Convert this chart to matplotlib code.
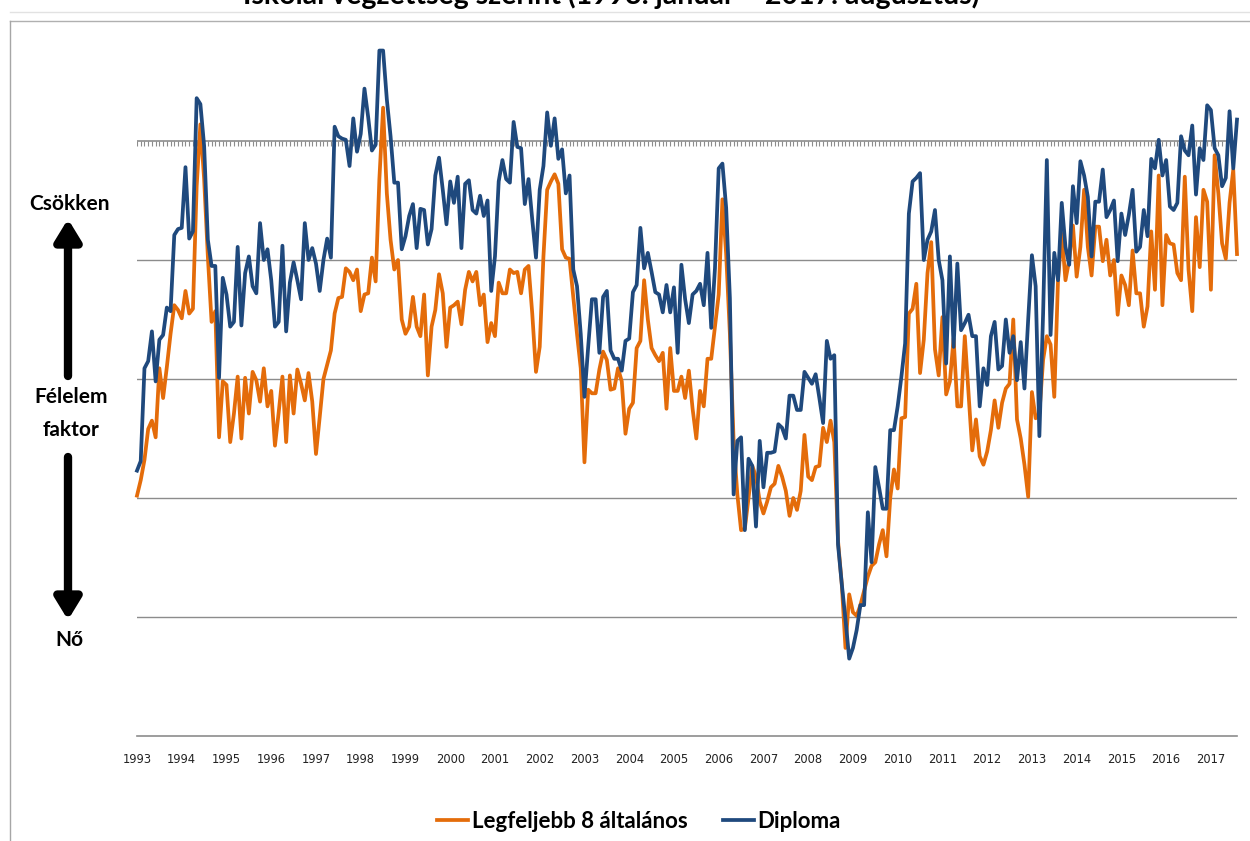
import matplotlib
matplotlib.use("Agg")
import matplotlib.pyplot as plt
from matplotlib.lines import Line2D

TITLE = "Iskolai végzettség szerint (1993. január – 2017. augusztus)"
YEARS = [str(y) for y in range(1993, 2018)]
SERIES_NAMES = ["Legfeljebb 8 általános", "Diploma"]

# monthly values, Jan 1993 - Aug 2017 (arbitrary index units)
low_edu = [
    -29.8, -28.5, -26.8, -24.2, -23.5, -24.9, -19.1, -21.6, -19.0, -16.2,
    -13.8, -14.2, -14.9, -12.6, -14.5, -14.1, -3.8, 1.4, -3.2, -9.7,
    -15.2, -14.3, -24.9, -20.2, -20.5, -25.3, -22.9, -19.8, -25.0, -19.9,
    -22.9, -19.4, -20.1, -21.9, -19.1, -22.3, -21.0, -25.6, -22.8, -19.8,
    -25.3, -19.7, -22.9, -19.2, -20.4, -21.8, -19.5, -21.9, -26.3, -23.2,
    -20.0, -18.8, -17.6, -14.5, -13.2, -13.1, -10.7, -11.0, -11.7, -10.8,
    -14.3, -12.9, -12.8, -9.8, -11.8, -3.2, 2.8, -4.4, -8.3, -10.8,
    -10.0, -15.0, -16.2, -15.6, -13.1, -15.6, -16.4, -12.9, -19.7, -15.6,
    -14.2, -11.2, -12.8, -17.3, -14.0, -13.8, -13.5, -15.4, -12.5, -11.0,
    -11.8, -11.0, -13.8, -12.9, -16.9, -15.3, -16.4, -11.9, -12.8, -12.8,
    -10.8, -11.1, -11.0, -12.8, -10.8, -10.5, -14.5, -19.4, -17.3, -9.7,
    -4.1, -3.4, -2.8, -3.6, -9.1, -9.8, -9.9, -13.1, -16.2, -19.1,
    -27.0, -20.9, -21.2, -21.2, -19.2, -17.7, -18.4, -20.9, -20.8, -19.1,
    -20.2, -24.6, -22.5, -22.0, -17.4, -16.8, -11.7, -15.0, -17.4, -18.0,
    -18.5, -17.8, -22.5, -17.4, -21.0, -21.0, -19.8, -21.6, -19.3, -22.5,
    -25.0, -21.0, -22.3, -18.3, -18.3, -15.6, -12.9, -4.9, -9.5, -16.2,
    -25.2, -29.7, -32.7, -32.6, -30.0, -27.3, -28.2, -30.3, -31.3, -30.3,
    -29.1, -28.8, -27.3, -28.2, -29.4, -31.5, -30.0, -31.0, -29.4, -24.7,
    -28.2, -28.5, -27.4, -27.3, -24.1, -25.3, -23.5, -25.3, -33.6, -37.2,
    -42.6, -38.1, -39.6, -39.9, -39.0, -37.8, -36.6, -35.7, -35.4, -33.9,
    -32.7, -34.9, -30.0, -27.6, -29.2, -23.3, -23.2, -14.5, -14.1, -12.0,
    -19.5, -16.7, -11.1, -8.5, -17.5, -19.7, -14.8, -21.3, -20.2, -16.6,
    -22.3, -22.3, -16.4, -21.2, -26.0, -23.4, -26.5, -27.2, -26.1, -24.3,
    -21.8, -24.1, -22.0, -20.8, -20.4, -15.0, -23.4, -25.0, -27.2, -29.9,
    -21.1, -23.3, -22.9, -18.4, -16.4, -17.1, -21.5, -11.7, -7.8, -11.7,
    -10.0, -7.1, -11.4, -8.9, -4.1, -8.9, -11.3, -7.2, -7.2, -10.1,
    -8.3, -11.3, -10.0, -14.6, -11.3, -12.1, -13.8, -9.2, -12.8, -12.8,
    -15.6, -13.9, -7.6, -12.5, -2.9, -13.8, -7.9, -8.6, -8.7, -11.1,
    -11.7, -3.0, -10.8, -14.3, -6.4, -10.6, -4.1, -5.1, -12.5, -1.2,
    -4.4, -8.6, -9.9, -5.2, -2.4, -9.5,
]

diploma = [
    -27.7, -26.9, -19.1, -18.5, -16.0, -20.2, -16.7, -16.3, -14.0, -14.3,
    -7.9, -7.4, -7.3, -2.2, -8.2, -7.6, 3.6, 3.1, -0.4, -8.3,
    -10.5, -10.5, -19.9, -11.5, -12.9, -15.6, -15.2, -8.9, -15.5, -11.1,
    -9.7, -12.2, -12.8, -6.9, -10.0, -9.1, -11.7, -15.6, -15.2, -8.8,
    -16.0, -11.9, -10.2, -11.7, -13.3, -6.9, -10.0, -9.0, -10.3, -12.6,
    -10.0, -8.2, -9.8, 1.2, 0.4, 0.2, 0.1, -2.1, 1.9, -0.9,
    0.6, 4.4, 2.0, -0.8, -0.3, 7.6, 7.6, 3.5, 0.4, -3.5,
    -3.5, -9.1, -8.0, -6.3, -5.3, -9.0, -5.7, -5.8, -8.7, -7.4,
    -2.9, -1.4, -4.1, -7.0, -3.4, -5.2, -3.0, -9.0, -3.6, -3.3,
    -5.8, -6.1, -4.6, -6.3, -5.0, -12.6, -9.7, -3.4, -1.6, -3.2,
    -3.5, 1.6, -0.5, -0.6, -5.3, -3.2, -6.6, -9.8, -4.1, -2.1,
    2.4, -0.4, 1.9, -1.5, -0.7, -4.4, -2.9, -10.8, -12.2, -16.2,
    -21.5, -17.3, -13.3, -13.3, -17.8, -13.1, -12.6, -17.6, -18.3, -18.3,
    -19.3, -16.8, -16.6, -12.7, -12.1, -7.3, -10.7, -9.4, -11.0, -12.7,
    -12.9, -14.4, -12.1, -14.4, -12.3, -17.8, -10.4, -13.3, -15.3, -12.9,
    -12.6, -12.0, -13.8, -9.4, -15.7, -10.7, -2.3, -1.9, -5.6, -13.2,
    -29.7, -25.2, -24.9, -32.7, -26.7, -27.3, -32.4, -25.2, -29.1, -26.2,
    -26.2, -26.1, -23.8, -24.1, -25.0, -21.4, -21.4, -22.6, -22.6, -19.4,
    -19.9, -20.4, -19.6, -21.6, -23.7, -16.8, -18.3, -18.0, -33.9, -37.2,
    -40.2, -43.5, -42.6, -41.1, -39.0, -39.0, -31.2, -35.4, -27.4, -29.1,
    -30.9, -30.9, -24.3, -24.3, -22.3, -19.8, -17.0, -6.1, -3.4, -3.1,
    -2.7, -10.0, -8.3, -7.6, -5.8, -10.0, -11.7, -18.7, -9.7, -17.3,
    -10.3, -15.9, -15.3, -14.6, -16.4, -16.4, -22.3, -19.1, -20.5, -16.4,
    -15.2, -19.2, -18.9, -15.0, -17.8, -16.4, -20.1, -16.9, -20.8, -15.0,
    -9.6, -12.2, -24.8, -14.5, -1.6, -16.3, -9.4, -11.7, -5.2, -8.9,
    -10.4, -3.8, -6.9, -1.7, -2.9, -4.7, -9.7, -5.1, -5.1, -2.4,
    -6.4, -5.8, -5.0, -10.1, -6.1, -7.9, -6.2, -4.1, -9.3, -8.9,
    -5.8, -8.0, -1.5, -2.3, 0.1, -2.9, -1.6, -5.5, -5.8, -5.2,
    0.4, -0.8, -1.2, 1.3, -4.5, -0.6, -1.6, 3.0, 2.6, -0.6,
    -1.2, -3.8, -3.1, 2.5, -2.3, 1.8,
]

ORANGE = "#E46C0A"
BLUE = "#1F497D"
GRID = "#8c8c8c"
BOLD = ["Lato", "DejaVu Sans"]

W, H = 1250, 841
fig = plt.figure(figsize=(W / 100, H / 100), dpi=100)
ax = fig.add_axes([137 / W, 1 - 736 / H, 1100 / W, (736 - 22) / H])

months = list(range(len(diploma)))
ax.set_xlim(0, len(diploma) - 1)
ax.set_ylim(-50, 10)

for g in [-40, -30, -20, -10]:
    ax.axhline(g, color=GRID, lw=1.0, zorder=1)
ax.axhline(-50, color=GRID, lw=1.2, zorder=1, clip_on=False)
ax.axhline(0, color=GRID, lw=1.2, zorder=1)
ax.vlines(months, -0.38, 0, color=GRID, lw=0.8, zorder=1)

ax.plot(months, low_edu, color=ORANGE, lw=2.7, zorder=3, clip_on=False,
        solid_joinstyle="round")
ax.plot(months, diploma, color=BLUE, lw=2.7, zorder=4, clip_on=False,
        solid_joinstyle="round")

for s in ax.spines.values():
    s.set_visible(False)
ax.set_yticks([])
ax.set_xticks(range(0, len(diploma), 12))
ax.set_xticklabels(YEARS, fontsize=8.3, color="#222222")
ax.tick_params(axis="x", length=0, pad=12)

# title, cut off at the top edge as in the screenshot
fig.text(611 / W, 1 - 4 / H, TITLE, ha="center", va="baseline",
         fontsize=20.5, fontweight="bold", family=BOLD)

# frame lines of the pasted chart
fig.add_artist(Line2D([10 / W, 1], [1 - 12 / H] * 2, color="#e2e2e2", lw=1))
fig.add_artist(Line2D([10 / W, 1], [1 - 21 / H] * 2, color="#b0b0b0", lw=1))
fig.add_artist(Line2D([10 / W] * 2, [0, 1 - 21 / H], color="#a6a6a6", lw=1))

# left side annotation
lab = dict(ha="center", va="center", fontsize=15, fontweight="bold", family=BOLD)
fig.text(70 / W, 1 - 204 / H, "Csökken", **lab)
fig.text(71 / W, 1 - 397 / H, "Félelem", **lab)
fig.text(71 / W, 1 - 430 / H, "faktor", **lab)
fig.text(69 / W, 1 - 640 / H, "Nő", **lab)
arrow = dict(arrowstyle="-|>,head_length=0.9,head_width=0.55", color="black", lw=6)
fig.add_artist(matplotlib.patches.FancyArrowPatch(
    (68 / W, 1 - 376 / H), (68 / W, 1 - 219 / H), transform=fig.transFigure,
    mutation_scale=14, shrinkA=0, shrinkB=0, **arrow))
fig.add_artist(matplotlib.patches.FancyArrowPatch(
    (68 / W, 1 - 457 / H), (68 / W, 1 - 620 / H), transform=fig.transFigure,
    mutation_scale=14, shrinkA=0, shrinkB=0, **arrow))

handles = [Line2D([], [], color=ORANGE, lw=2.7), Line2D([], [], color=BLUE, lw=2.7)]
fig.legend(handles, SERIES_NAMES, loc="center", bbox_to_anchor=(639 / W, 1 - 821 / H),
           ncol=2, frameon=False, handlelength=1.4, handletextpad=0.15,
           columnspacing=1.6, prop=dict(family=BOLD, weight="bold", size=16))

fig.savefig("out.png", dpi=100)
